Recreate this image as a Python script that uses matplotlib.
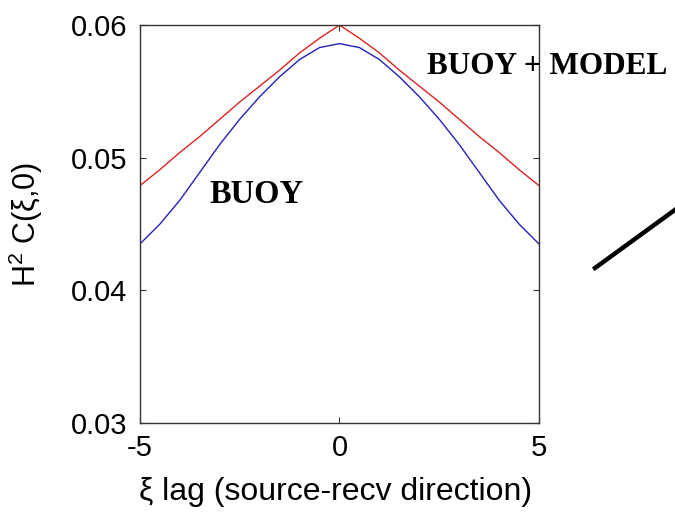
import matplotlib
matplotlib.use('Agg')
import matplotlib.pyplot as plt
from matplotlib.lines import Line2D
import numpy as np

plt.rcParams['font.family'] = ['Liberation Sans', 'DejaVu Sans']
plt.rcParams['mathtext.fontset'] = 'custom'
plt.rcParams['mathtext.rm'] = 'Liberation Sans'
plt.rcParams['mathtext.it'] = 'Liberation Sans:italic'

# lag values (left half, curves are symmetric about 0)
lag_half = [-5.0, -4.5, -4.0, -3.5, -3.0, -2.5, -2.0, -1.5, -1.0, -0.5, 0.0]
buoy_model_half = [0.0479, 0.0491, 0.0504, 0.0516, 0.0529, 0.0542,
                   0.0554, 0.0566, 0.0579, 0.0590, 0.0600]
buoy_half = [0.0435, 0.0450, 0.0468, 0.0489, 0.0510, 0.0529,
             0.0546, 0.0561, 0.0574, 0.0583, 0.0586]

lag = lag_half + [-v for v in lag_half[-2::-1]]
buoy_model = buoy_model_half + buoy_model_half[-2::-1]
buoy = buoy_half + buoy_half[-2::-1]

xticks = [-5, 0, 5]
yticks = [0.03, 0.04, 0.05, 0.06]

fig = plt.figure(figsize=(6.75, 5.15), dpi=100)
ax = fig.add_axes([0.2074, 0.1786, 0.5911, 0.7728])

ax.plot(lag, buoy_model, color='#dd2222', lw=1.0)
ax.plot(lag, buoy, color='#2222bb', lw=1.0)

ax.set_xlim(-5, 5)
ax.set_ylim(0.03, 0.06)
ax.set_xticks(xticks)
ax.set_xticklabels(['-5', '0', '5'])
ax.set_yticks(yticks)
ax.set_yticklabels(['%.2f' % v for v in yticks])
ax.tick_params(direction='in', top=True, right=True, length=4, width=0.8,
               labelsize=21, color='#333333')
ax.tick_params(axis='x', pad=8)
ax.tick_params(axis='y', pad=9)
for s in ax.spines.values():
    s.set_color('#333333')
    s.set_linewidth(1.0)

ax.set_xlabel('ξ lag (source-recv direction)', fontsize=23)
ax.xaxis.set_label_coords(0.49, -0.135)
ax.set_ylabel('H$^{2}$ C(ξ,0)', fontsize=22)
ax.yaxis.set_label_coords(-0.238, 0.5)

ax.text(-2.07, 0.0472, 'BUOY', family='Liberation Serif', fontweight='bold',
        fontsize=23.5, ha='center', va='center')
ax.text(5.2, 0.0569, 'BUOY + MODEL', family='Liberation Serif',
        fontweight='bold', fontsize=22.5, ha='center', va='center', clip_on=False)

# stray pointer line on the right
fig.add_artist(Line2D([595 / 675, 1.02], [1 - 268 / 515, 1 - 200 / 515],
                      transform=fig.transFigure, color='black', lw=3.2))

fig.savefig('out.png', dpi=100)
